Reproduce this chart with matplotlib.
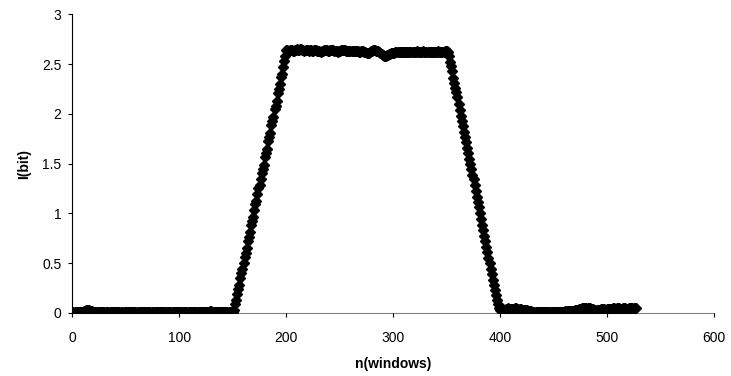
import numpy as np
import matplotlib
matplotlib.use("Agg")
import matplotlib.pyplot as plt

# I(bit) per window
base = [0.01, 0.01, 0.01, 0.01, 0.01, 0.01, 0.01, 0.01, 0.01, 0.01,
        0.01, 0.02, 0.02, 0.03, 0.03, 0.03, 0.03, 0.02, 0.02, 0.01,
        0.01, 0.01, 0.01, 0.00, 0.01, 0.01, 0.01, 0.01, 0.01, 0.01,
        0.01, 0.01, 0.01, 0.01, 0.00, 0.01, 0.01, 0.01, 0.01, 0.01,
        0.01, 0.01, 0.01, 0.01, 0.01, 0.01, 0.01, 0.00, 0.01, 0.01,
        0.01, 0.01, 0.01, 0.01, 0.01, 0.01, 0.01, 0.01, 0.01, 0.01,
        0.01, 0.00, 0.01, 0.01, 0.01, 0.01, 0.01, 0.01, 0.01, 0.01,
        0.01, 0.01, 0.01, 0.01, 0.01, 0.01, 0.00, 0.01, 0.01, 0.01,
        0.01, 0.01, 0.01, 0.01, 0.01, 0.01, 0.01, 0.01, 0.01, 0.01,
        0.01, 0.01, 0.00, 0.01, 0.01, 0.01, 0.01, 0.01, 0.01, 0.01,
        0.01, 0.01, 0.01, 0.01, 0.01, 0.01, 0.01, 0.01, 0.00, 0.01,
        0.01, 0.01, 0.01, 0.01, 0.01, 0.01, 0.01, 0.01, 0.01, 0.01,
        0.01, 0.01, 0.01, 0.01, 0.01, 0.01, 0.01, 0.01, 0.01, 0.02,
        0.02, 0.01, 0.01, 0.01, 0.01, 0.01, 0.01, 0.01, 0.01, 0.01,
        0.01, 0.01, 0.01, 0.01, 0.01, 0.01, 0.01, 0.01, 0.01, 0.01,
        0.01]
rise = [0.03, 0.09, 0.13, 0.19, 0.24, 0.28, 0.35, 0.40, 0.44, 0.50,
        0.56, 0.60, 0.65, 0.72, 0.76, 0.81, 0.88, 0.92, 0.96, 1.03,
        1.09, 1.12, 1.19, 1.25, 1.28, 1.34, 1.41, 1.45, 1.49, 1.57,
        1.61, 1.65, 1.73, 1.77, 1.81, 1.89, 1.93, 1.97, 2.05, 2.08,
        2.13, 2.21, 2.25, 2.30, 2.37, 2.40, 2.47, 2.53, 2.58]
top = [2.64, 2.64, 2.63, 2.64, 2.64, 2.64, 2.63, 2.63, 2.64, 2.64,
       2.65, 2.64, 2.64, 2.65, 2.65, 2.64, 2.64, 2.63, 2.64, 2.64,
       2.64, 2.63, 2.64, 2.64, 2.63, 2.63, 2.64, 2.64, 2.64, 2.63,
       2.63, 2.63, 2.62, 2.63, 2.63, 2.64, 2.64, 2.64, 2.64, 2.63,
       2.63, 2.64, 2.64, 2.64, 2.64, 2.63, 2.63, 2.63, 2.62, 2.63,
       2.63, 2.64, 2.64, 2.64, 2.64, 2.64, 2.63, 2.63, 2.63, 2.63,
       2.63, 2.63, 2.63, 2.63, 2.63, 2.63, 2.63, 2.63, 2.62, 2.62,
       2.63, 2.63, 2.63, 2.62, 2.62, 2.61, 2.61, 2.61, 2.62, 2.63,
       2.63, 2.64, 2.64, 2.64, 2.63, 2.63, 2.63, 2.62, 2.61, 2.60,
       2.59, 2.58, 2.58, 2.58, 2.59, 2.59, 2.60, 2.60, 2.61, 2.61,
       2.61, 2.61, 2.62, 2.62, 2.62, 2.62, 2.62, 2.62, 2.62, 2.62,
       2.62, 2.62, 2.62, 2.62, 2.62, 2.62, 2.62, 2.62, 2.62, 2.62,
       2.62, 2.62, 2.63, 2.62, 2.62, 2.62, 2.62, 2.62, 2.63, 2.62,
       2.62, 2.62, 2.62, 2.62, 2.62, 2.62, 2.62, 2.62, 2.62, 2.62,
       2.62, 2.62, 2.63, 2.62, 2.62, 2.62, 2.62, 2.62, 2.63, 2.63,
       2.63, 2.62]
fall = [2.58, 2.52, 2.48, 2.43, 2.36, 2.31, 2.26, 2.22, 2.17, 2.10,
        2.04, 1.98, 1.93, 1.88, 1.82, 1.77, 1.72, 1.66, 1.61, 1.55,
        1.50, 1.45, 1.39, 1.34, 1.28, 1.22, 1.16, 1.11, 1.06, 1.00,
        0.94, 0.88, 0.83, 0.77, 0.72, 0.66, 0.61, 0.55, 0.50, 0.44,
        0.39, 0.33, 0.28, 0.23, 0.18, 0.13, 0.09, 0.05, 0.03]
tail = [0.04, 0.04, 0.04, 0.03, 0.04, 0.04, 0.05, 0.04, 0.04, 0.04,
        0.04, 0.04, 0.04, 0.05, 0.05, 0.04, 0.04, 0.04, 0.04, 0.03,
        0.03, 0.03, 0.03, 0.03, 0.03, 0.02, 0.02, 0.02, 0.02, 0.01,
        0.01, 0.01, 0.01, 0.01, 0.01, 0.01, 0.01, 0.01, 0.01, 0.01,
        0.01, 0.01, 0.01, 0.01, 0.01, 0.01, 0.01, 0.01, 0.01, 0.01,
        0.01, 0.01, 0.01, 0.01, 0.01, 0.01, 0.01, 0.01, 0.01, 0.01,
        0.02, 0.02, 0.02, 0.02, 0.02, 0.02, 0.02, 0.02, 0.02, 0.03,
        0.03, 0.03, 0.03, 0.04, 0.04, 0.05, 0.05, 0.05, 0.05, 0.05,
        0.04, 0.05, 0.05, 0.05, 0.04, 0.04, 0.04, 0.03, 0.03, 0.03,
        0.03, 0.03, 0.03, 0.04, 0.04, 0.04, 0.04, 0.03, 0.03, 0.04,
        0.04, 0.04, 0.04, 0.04, 0.05, 0.05, 0.04, 0.04, 0.05, 0.05,
        0.05, 0.04, 0.04, 0.04, 0.05, 0.05, 0.05, 0.04, 0.04, 0.05,
        0.05, 0.05, 0.05, 0.04, 0.05, 0.05, 0.05]

info = np.array(base + rise + top + fall + tail)
n = np.arange(len(info))

plt.rcParams['font.family'] = ['Liberation Sans', 'DejaVu Sans']
fig = plt.figure(figsize=(7.31, 3.76), dpi=100)
ax = fig.add_axes([0.099, 0.168, 0.878, 0.794])

ax.plot(n, info, linestyle='none', marker='D', markersize=5,
        color='black', markeredgewidth=1.0)

ax.set_xlim(0, 600)
ax.set_ylim(0, 3)
ax.set_xticks(np.arange(0, 601, 100))
ax.set_yticks([0, 0.5, 1, 1.5, 2, 2.5, 3])
ax.set_yticklabels(['0', '0.5', '1', '1.5', '2', '2.5', '3'])

for s in ['top', 'right']:
    ax.spines[s].set_visible(False)
ax.spines['left'].set_color('black')
ax.spines['bottom'].set_color('#808080')
ax.spines['bottom'].set_zorder(0)
ax.tick_params(direction='out', length=3, labelsize=10, width=0.8)
ax.tick_params(axis='x', pad=10)
ax.tick_params(axis='y', pad=5)

ax.set_xlabel('n(windows)', fontsize=10, fontweight='bold', labelpad=9)
ax.set_ylabel('I(bit)', fontsize=10, fontweight='bold', labelpad=8)

fig.savefig('out.png', dpi=100)
